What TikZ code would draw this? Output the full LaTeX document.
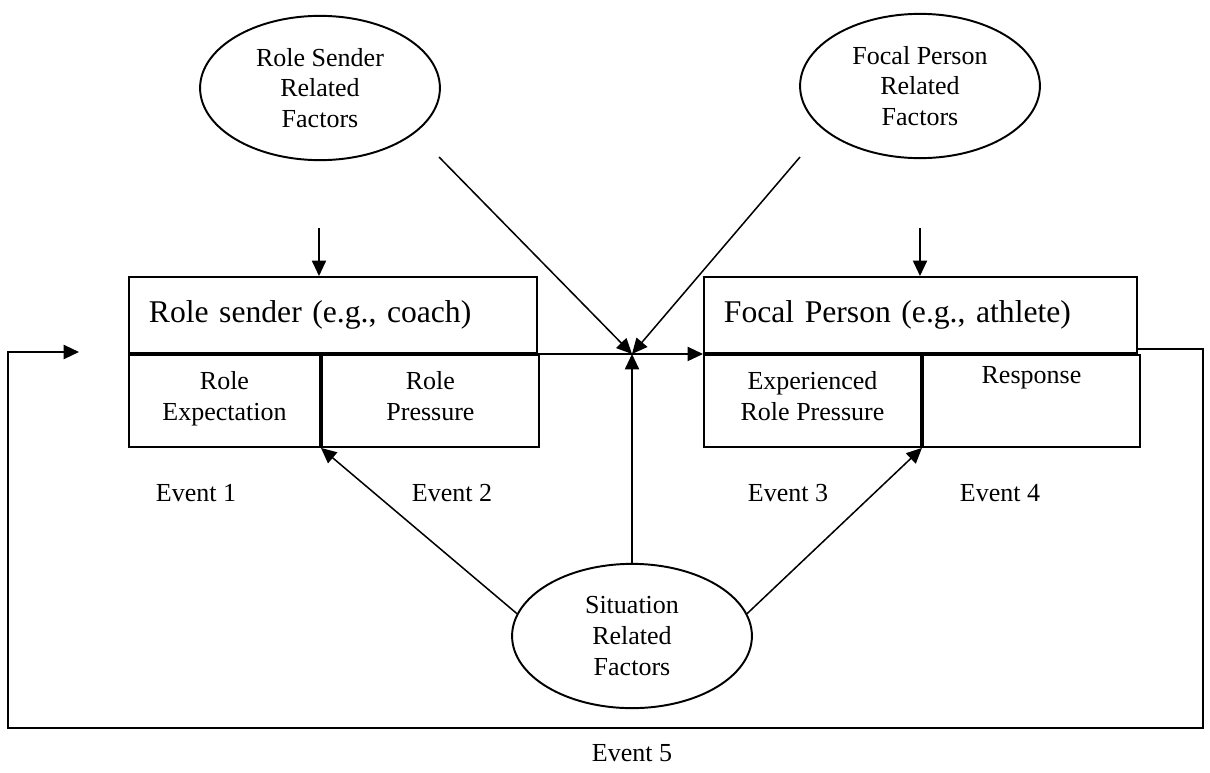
\documentclass[tikz,border=0pt]{standalone}
\usepackage{fontspec}
\setmainfont{Liberation Serif}
\usetikzlibrary{shapes.geometric,arrows.meta}

\newcommand*{\xmax}{1210}
\newcommand*{\ymax}{772}

\begin{document}
\begin{tikzpicture}
[
	x=0.01622cm, y=-0.01622cm,
	factor/.style={ellipse,draw,line width=0.9pt,minimum width=3.89cm,minimum height=2.34cm,inner sep=0pt,align=center,font=\fontsize{12}{14.2}\selectfont},
	headbox/.style={rectangle,draw,line width=0.9pt,anchor=north west,minimum height=1.233cm,text width=5.97cm,inner xsep=0.324cm,inner ysep=0pt,align=left,font=\fontsize{14.6}{17}\selectfont},
	cellbox/.style={rectangle,draw,line width=0.9pt,anchor=north west,minimum height=1.492cm,inner sep=0pt,align=center,font=\fontsize{12}{14.2}\selectfont},
	eventtxt/.style={font=\fontsize{12}{14.2}\selectfont},
	arr/.style={-{Triangle[length=0.25cm,width=0.23cm]},line width=0.7pt}
]
	\useasboundingbox (0,0) rectangle (\xmax,\ymax);

	% factors
	\node[factor] (rsf) at (320,88) {Role Sender\\Related\\Factors};
	\node[factor] (fpf) at (920,86) {Focal Person\\Related\\Factors};
	\node[factor] (sit) at (632,636) {Situation\\Related\\Factors};

	% role sender box
	\node[headbox] (rs) at (128,276) {Role sender (e.g., coach)};
	\node[cellbox,minimum width=3.098cm] (rexp) at (rs.south west) {Role\\Expectation\strut};
	\node[cellbox,minimum width=3.52cm] (rpre) at (rexp.north east) {Role\\Pressure\strut};

	% focal person box
	\node[headbox,text width=6.374cm] (fp) at (703,276) {Focal Person (e.g., athlete)};
	\node[cellbox,minimum width=3.52cm] (erp) at (fp.south west) {Experienced\\Role Pressure\strut};
	\node[cellbox,minimum width=3.52cm] (resp) at (erp.north east) {\raisebox{0.1cm}[\height][\depth]{Response}\\\mbox{}\strut};

	% events
	\node[eventtxt] (ev1) at (196,493) {Event 1};
	\node[eventtxt] (ev2) at (452,493) {Event 2};
	\node[eventtxt] (ev3) at (788,493) {Event 3};
	\node[eventtxt] (ev4) at (1000,493) {Event 4};
	\node[eventtxt] (ev5) at (632,753) {Event 5};

	\coordinate (jn) at (sit.north |- rs.south);
	\coordinate (rsin) at (319,228);
	\coordinate (fpin) at (920,228);
	\coordinate (rsout) at (439,157);
	\coordinate (fpout) at (800,157);
	\coordinate (fbout) at ([yshift=0.08cm]fp.south east);
	\coordinate (fbin) at (79,352);
	\coordinate (fbr) at (1203,728);
	\coordinate (fbl) at (8,728);

	% arrows
	\draw[arr] (rsin) -- (rsin |- rs.north);
	\draw[arr] (fpin) -- (fpin |- fp.north);
	\draw[arr] (rsout) -- (jn);
	\draw[arr] (fpout) -- (jn);
	\draw[arr] (sit.north) -- (jn);
	\draw[arr] (rs.south east) -- (fp.south west);
	\draw[arr] (sit.169) -- (rexp.south east);
	\draw[arr] (sit.11) -- (erp.south east);

	% feedback loop
	\draw[arr,line width=0.9pt] (fbout) -| (fbr) -- (fbl) |- (fbin);

\end{tikzpicture}
\end{document}
